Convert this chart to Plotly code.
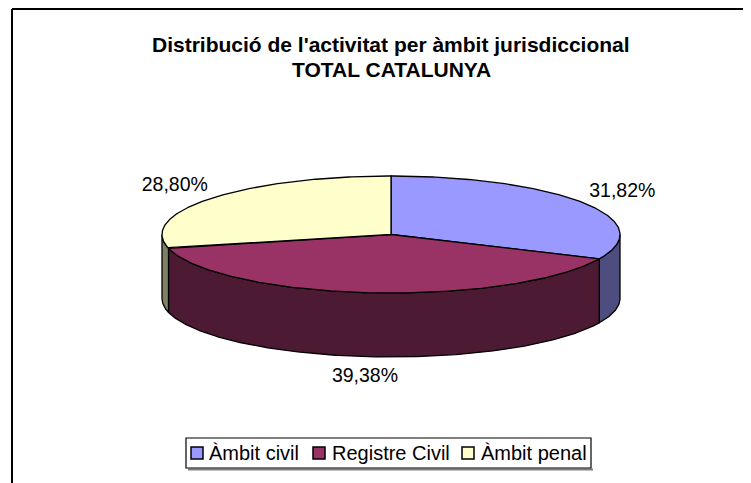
import math
import plotly.graph_objects as go

# ---- data ----
categories = ["Àmbit civil", "Registre Civil", "Àmbit penal"]
values = [31.82, 39.38, 28.80]
top_colors = ["#9999FF", "#993366", "#FFFFCC"]
side_colors = ["#4D4D80", "#4D1A33", "#808066"]
title_line1 = "Distribució de l'activitat per àmbit jurisdiccional"
title_line2 = "TOTAL CATALUNYA"

# ---- geometry (layout; data units = screen pixels) ----
W, H = 751, 483
OFF = 8  # page body margin
cx, cy = 391, 234.5
a, b = 229, 58.5
depth = 64
FONT = "Liberation Sans, Arial, sans-serif"


def px(x):
    return (x - OFF) / W


def py(y):
    return 1 - (y - OFF) / H


def pt(phi, dy=0.0):
    r = math.radians(phi)
    return cx + a * math.cos(r), cy - b * math.sin(r) + dy


def arc(p0, p1, dy=0.0):
    xs, ys = [], []
    steps = max(2, int(abs(p1 - p0) * 1.5) + 2)
    for k in range(steps + 1):
        p = p0 + (p1 - p0) * k / steps
        x, y = pt(p, dy)
        xs.append(x)
        ys.append(y)
    return xs, ys


total = sum(values)
bounds = []
acc = 0.0
for v in values:
    start = 90 - 360 * acc / total
    acc += v
    end = 90 - 360 * acc / total
    bounds.append((start, end))

fig = go.Figure()

# side walls (front half only: phi in [-180, 0])
for (start, end), col in zip(bounds, side_colors):
    hi = min(start, 0)
    lo = max(end, -180)
    if hi <= lo:
        continue
    xt, yt = arc(hi, lo, 0)
    xb, yb = arc(lo, hi, depth)
    fig.add_trace(go.Scatter(
        x=xt + xb + [xt[0]], y=yt + yb + [yt[0]], mode="lines",
        fill="toself", fillcolor=col, line=dict(color="black", width=1.3),
        hoverinfo="skip", showlegend=False))

# top faces
for (start, end), col, name in zip(bounds, top_colors, categories):
    xa, ya = arc(start, end, 0)
    fig.add_trace(go.Scatter(
        x=[cx] + xa + [cx], y=[cy] + ya + [cy], mode="lines",
        fill="toself", fillcolor=col, line=dict(color="black", width=1.3),
        name=name, hoverinfo="skip", showlegend=False))

# data labels
la, lb = 275, 79
lx, ly, lt = [], [], []
for (start, end), v in zip(bounds, values):
    mid = math.radians((start + end) / 2)
    x = cx + la * math.cos(mid)
    y = cy - lb * math.sin(mid)
    if math.sin(mid) < 0:
        y += depth
    lx.append(x)
    ly.append(y)
    lt.append(f"{v:.2f}".replace(".", ",") + "%")
fig.add_trace(go.Scatter(x=lx, y=ly, text=lt, mode="text",
                         textfont=dict(family=FONT, size=19.5, color="black"),
                         hoverinfo="skip", showlegend=False))

shapes = []
annotations = []

# chart area border (left and top visible)
shapes.append(dict(type="line", xref="paper", yref="paper",
                   x0=px(12), x1=px(12), y0=py(9), y1=-0.1,
                   line=dict(color="black", width=2)))
shapes.append(dict(type="line", xref="paper", yref="paper",
                   x0=px(12), x1=1.1, y0=py(9), y1=py(9),
                   line=dict(color="black", width=2)))

# title
for txt, yy in [(title_line1, 45), (title_line2, 70)]:
    annotations.append(dict(text="<b>" + txt + "</b>", x=px(391), y=py(yy),
                            xref="paper", yref="paper", xanchor="center",
                            yanchor="middle", showarrow=False,
                            font=dict(family=FONT, size=21, color="black")))

# legend
lg_x0, lg_x1, lg_y0, lg_y1 = 186, 591, 438, 468
shapes.append(dict(type="line", xref="paper", yref="paper",
                   x0=px(lg_x0 + 2), x1=px(lg_x1 + 2),
                   y0=py(lg_y1 + 1.5), y1=py(lg_y1 + 1.5),
                   line=dict(color="#808080", width=2)))
shapes.append(dict(type="rect", xref="paper", yref="paper",
                   x0=px(lg_x0), x1=px(lg_x1), y0=py(lg_y1), y1=py(lg_y0),
                   line=dict(color="black", width=1.2), fillcolor="white"))
sq_x = [191, 313, 462]
txt_x = [207, 330, 479]
sq = 12
ly_c = 453
for x0, tx, col, name in zip(sq_x, txt_x, top_colors, categories):
    shapes.append(dict(type="rect", xref="paper", yref="paper",
                       x0=px(x0), x1=px(x0 + sq),
                       y0=py(ly_c + sq / 2), y1=py(ly_c - sq / 2),
                       line=dict(color="black", width=1.5), fillcolor=col))
    annotations.append(dict(text=name, x=px(tx), y=py(ly_c), xref="paper",
                            yref="paper", xanchor="left", yanchor="middle",
                            showarrow=False,
                            font=dict(family=FONT, size=20, color="black")))

fig.update_layout(
    width=W, height=H, margin=dict(l=0, r=0, t=0, b=0),
    paper_bgcolor="white", plot_bgcolor="white",
    xaxis=dict(range=[OFF, W + OFF], visible=False, fixedrange=True),
    yaxis=dict(range=[H + OFF, OFF], visible=False, fixedrange=True),
    shapes=shapes, annotations=annotations, showlegend=False,
)

fig.write_html("out.html")
